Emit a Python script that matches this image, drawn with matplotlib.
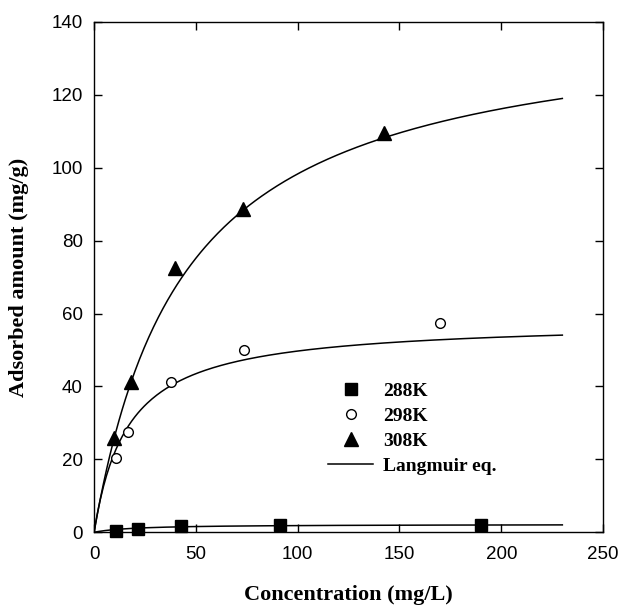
import numpy as np
import matplotlib
matplotlib.use("Agg")
from matplotlib import pyplot as plt
from matplotlib.lines import Line2D

# ---- measured points (concentration [mg/L], adsorbed amount [mg/g])
c_288 = [11.0, 21.6, 42.9, 91.3, 190.0]
q_288 = [0.4, 1.0, 1.6, 1.9, 1.9]

c_298 = [10.6, 16.6, 37.7, 73.7, 170.0]
q_298 = [20.4, 27.4, 41.2, 50.1, 57.5]

c_308 = [9.8, 17.9, 39.8, 73.2, 142.6]
q_308 = [25.8, 41.2, 72.5, 88.6, 109.4]

# ---- Langmuir fit parameters: qm [mg/g], K [L/mg]
qm_fit = [2.2, 58.0, 142.0]
k_fit = [0.05, 0.06, 0.0225]
c_fit_max = 230.0

plt.rcParams["font.family"] = ["Liberation Sans", "DejaVu Sans"]

fig = plt.figure(figsize=(6.23, 6.09), dpi=100)
ax = fig.add_axes([0.151, 0.126, 0.817, 0.838])

# ---- Langmuir curves
c_line = np.linspace(0.0, c_fit_max, 300)
for qm, k in zip(qm_fit, k_fit):
    ax.plot(c_line, qm * k * c_line / (1.0 + k * c_line), color="black", lw=1.1)

# ---- data points
ax.plot(c_288, q_288, ls="none", marker="s", ms=8.5, color="black", clip_on=False)
ax.plot(c_298, q_298, ls="none", marker="o", ms=7, mfc="white", mec="black",
        mew=1.0, clip_on=False)
ax.plot(c_308, q_308, ls="none", marker="^", ms=9.5, color="black", clip_on=False)

ax.set_xlim(0, 250)
ax.set_ylim(0, 140)
ax.set_xticks(np.arange(0, 251, 50))
ax.set_yticks(np.arange(0, 141, 20))
ax.tick_params(direction="in", length=6, width=1, labelsize=13.5, pad=8,
               top=True, right=True)
ax.tick_params(axis="x", pad=10)
for spine in ax.spines.values():
    spine.set_linewidth(1.0)

label_font = dict(family=["Liberation Serif", "DejaVu Serif"], weight="bold", size=16)
ax.set_xlabel("Concentration (mg/L)", labelpad=16, **label_font)
ax.set_ylabel("Adsorbed amount (mg/g)", labelpad=16, **label_font)

# ---- legend
handles = [
    Line2D([], [], ls="none", marker="s", ms=8.5, color="black"),
    Line2D([], [], ls="none", marker="o", ms=7, mfc="white", mec="black"),
    Line2D([], [], ls="none", marker="^", ms=9.5, color="black"),
    Line2D([], [], color="black", lw=1.1),
]
names = ["288K", "298K", "308K", "Langmuir eq."]
ax.legend(handles, names, loc="upper left", bbox_to_anchor=(0.449, 0.305),
          frameon=False, handlelength=2.3, handletextpad=0.5, labelspacing=0.38,
          borderaxespad=0.0, borderpad=0.3,
          prop=dict(family=["Liberation Serif", "DejaVu Serif"], weight="bold", size=14))

fig.savefig("out.png", dpi=100)
